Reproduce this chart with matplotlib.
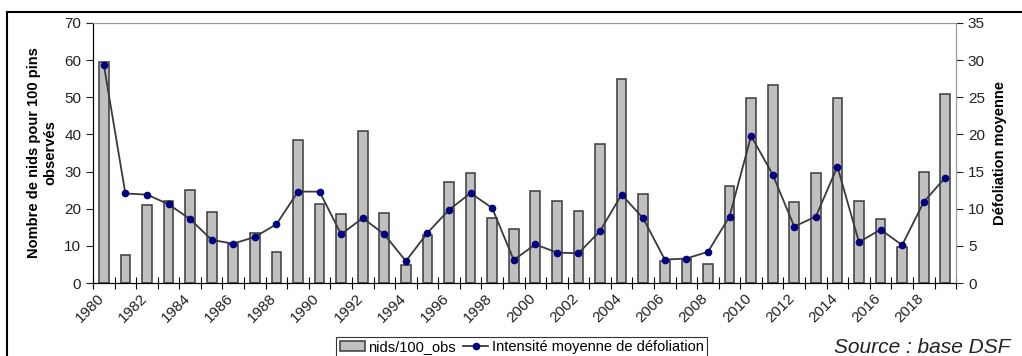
import numpy as np
import matplotlib.pyplot as plt
from matplotlib.patches import Rectangle
from matplotlib.transforms import ScaledTranslation

plt.rcParams['font.family'] = ['Liberation Sans', 'DejaVu Sans']

years = list(range(1980, 2020))
nids = [59.6, 7.5, 20.9, 22.0, 25.1, 19.2, 10.5, 13.4, 8.4, 38.6,
        21.3, 18.5, 40.8, 18.9, 4.9, 12.9, 27.3, 29.7, 17.4, 14.5,
        24.9, 22.1, 19.3, 37.5, 54.8, 24.0, 6.0, 6.6, 5.1, 26.0,
        49.7, 53.3, 21.7, 29.7, 49.7, 22.0, 17.1, 9.6, 30.0, 50.9]
defol = [29.4, 12.05, 11.9, 10.6, 8.6, 5.8, 5.3, 6.2, 7.9, 12.3,
         12.3, 6.55, 8.75, 6.55, 2.95, 6.75, 9.85, 12.1, 10.1, 3.1,
         5.2, 4.1, 4.0, 7.0, 11.9, 8.7, 3.15, 3.3, 4.2, 8.95,
         19.8, 14.6, 7.6, 8.95, 15.65, 5.5, 7.2, 5.1, 10.9, 14.2]

x = np.arange(len(years))

fig = plt.figure(figsize=(10.22, 3.56), dpi=100)
ax = fig.add_axes([0.091, 0.205, 0.8445, 0.7305])

ax.bar(x, nids, width=0.45, color='#c0c0c0', edgecolor='#3a3a3a', linewidth=1.1,
       label='nids/100_obs')
ax.set_xlim(-0.5, len(years) - 0.5)
ax.set_ylim(0, 70)
ax.set_yticks(np.arange(0, 71, 10))
ax.tick_params(axis='y', labelsize=11, length=5, colors='#222222')

# ticks between categories, labels every two years
ax.set_xticks(np.arange(-0.5, len(years), 1))
ax.set_xticklabels([])
ax.tick_params(axis='x', which='major', direction='inout', length=8)
ax.set_xticks(x[::2], minor=True)
ax.set_xticklabels([str(y) for y in years[::2]], minor=True, rotation=45,
                   ha='right', va='top', rotation_mode='anchor', fontsize=11,
                   color='#222222')
ax.tick_params(axis='x', which='minor', length=0, pad=6)
shift = ScaledTranslation(-7 / 100, 0, fig.dpi_scale_trans)
for lab in ax.get_xticklabels(minor=True):
    lab.set_transform(lab.get_transform() + shift)

ax.spines['top'].set_color('#999999')
ax.spines['right'].set_color('#999999')
ax.set_ylabel('Nombre de nids pour 100 pins\nobservés', fontsize=10.5,
              fontweight='bold', labelpad=5)

ax2 = ax.twinx()
ax2.plot(x, defol, color='#3a3a3a', lw=1.3, marker='o', markersize=4.5,
         markerfacecolor='#000080', markeredgecolor='#000080',
         label='Intensité moyenne de défoliation')
ax2.set_ylim(0, 35)
ax2.set_yticks(np.arange(0, 36, 5))
ax2.tick_params(axis='y', labelsize=11, length=5, colors='#222222')
ax2.spines['right'].set_color('#999999')
ax2.spines['top'].set_color('#999999')
ax2.set_ylabel('Défoliation moyenne', fontsize=10.5, fontweight='bold', labelpad=6)

h1, l1 = ax.get_legend_handles_labels()
h2, l2 = ax2.get_legend_handles_labels()
leg = fig.legend(h1 + h2, l1 + l2, loc='upper left', bbox_to_anchor=(0.329, 0.054),
                 ncol=2, fontsize=10.5, frameon=True, fancybox=False,
                 edgecolor='black', handlelength=1.7, handletextpad=0.25,
                 columnspacing=0.5, borderpad=0.25, borderaxespad=0)
leg.get_frame().set_linewidth(0.8)

fig.text(0.989, 0.025, 'Source : base DSF', fontsize=15, style='italic',
         ha='right', va='center', color='#222222')

fig.patches.append(Rectangle((0.007, -0.1), 1.1, 1.1 - 12 / 356, fill=False,
                             edgecolor='black', linewidth=1.5,
                             transform=fig.transFigure, figure=fig))

fig.savefig('out.png', dpi=100)
